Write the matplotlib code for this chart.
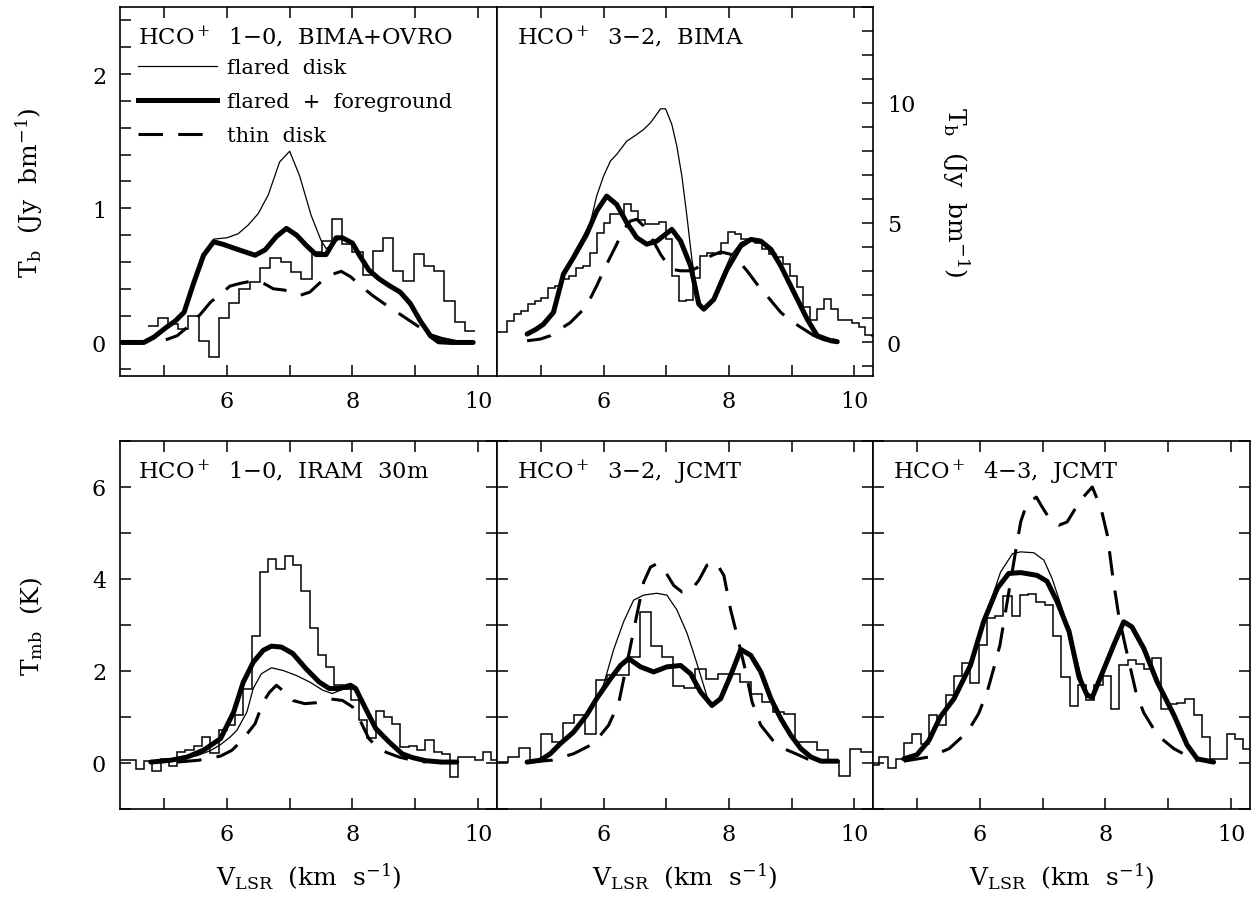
import numpy as np
import matplotlib
matplotlib.use("Agg")
from matplotlib import pyplot as plt
from matplotlib.ticker import MultipleLocator
from matplotlib.lines import Line2D

plt.rcParams['font.family'] = ['DejaVu Serif']
plt.rcParams['mathtext.fontset'] = 'dejavuserif'

# ---- HCO+ 1-0, BIMA+OVRO (Jy/beam) ----
b10_edges = [4.74, 4.90, 5.06, 5.23, 5.39, 5.55, 5.72, 5.88, 6.04, 6.20, 6.37,
             6.53, 6.69, 6.86, 7.02, 7.18, 7.35, 7.51, 7.67, 7.83, 8.00, 8.16,
             8.32, 8.49, 8.65, 8.81, 8.98, 9.14, 9.30, 9.46, 9.63, 9.79, 9.95]
b10_obs = [0.125, 0.18, 0.137, 0.10, 0.20, 0.012, -0.105, 0.18, 0.295, 0.40, 0.45,
           0.555, 0.63, 0.60, 0.525, 0.475, 0.675, 0.755, 0.92, 0.737, 0.675, 0.50,
           0.68, 0.775, 0.533, 0.458, 0.657, 0.567, 0.53, 0.312, 0.15, 0.087]
b10_flared_v = [4.32, 4.68, 4.84, 5.03, 5.18, 5.32, 5.47, 5.63, 5.79, 6.00, 6.18, 6.34,
                6.50, 6.66, 6.84, 7.00, 7.16, 7.34, 7.50, 7.58, 7.66, 7.79, 7.84, 8.00,
                8.11, 8.26, 8.42, 8.58, 8.76, 8.92, 9.08, 9.24, 9.37, 9.58, 9.92]
b10_flared = [0, 0, 0.04, 0.11, 0.16, 0.225, 0.44, 0.65, 0.77, 0.78, 0.81, 0.875,
              0.96, 1.10, 1.345, 1.425, 1.24, 0.95, 0.76, 0.70, 0.72, 0.775, 0.78, 0.74,
              0.65, 0.54, 0.475, 0.425, 0.375, 0.29, 0.16, 0.05, 0.005, 0, 0]
b10_fg_v = [4.32, 4.68, 4.84, 5.03, 5.18, 5.32, 5.47, 5.63, 5.79, 5.95, 6.13, 6.29,
            6.45, 6.61, 6.79, 6.95, 7.11, 7.26, 7.42, 7.58, 7.74, 7.84, 8.00, 8.11,
            8.26, 8.42, 8.58, 8.76, 8.92, 9.08, 9.24, 9.37, 9.58, 9.92]
b10_fg = [0, 0, 0.04, 0.11, 0.16, 0.225, 0.44, 0.65, 0.75, 0.73, 0.70, 0.675,
          0.65, 0.69, 0.79, 0.85, 0.80, 0.725, 0.655, 0.655, 0.78, 0.78, 0.74, 0.65,
          0.54, 0.475, 0.425, 0.375, 0.29, 0.16, 0.05, 0.005, 0, 0]
b10_thin_v = [5.03, 5.21, 5.40, 5.58, 5.74, 5.90, 6.05, 6.21, 6.37, 6.55, 6.74, 6.92,
              7.16, 7.32, 7.47, 7.63, 7.82, 7.97, 8.16, 8.32, 8.47, 8.63, 8.79, 8.95,
              9.11, 9.26, 9.42, 9.63, 9.90]
b10_thin = [0.02, 0.05, 0.125, 0.21, 0.30, 0.36, 0.42, 0.44, 0.455, 0.45, 0.40, 0.39,
            0.35, 0.375, 0.44, 0.50, 0.53, 0.49, 0.41, 0.35, 0.30, 0.25, 0.20, 0.15,
            0.10, 0.055, 0.03, 0.01, 0]

# ---- HCO+ 3-2, BIMA (Jy/beam) ----
b32_edges = [4.24, 4.35, 4.46, 4.57, 4.68, 4.79, 4.90, 5.01, 5.12, 5.23, 5.34,
             5.45, 5.56, 5.67, 5.78, 5.89, 6.00, 6.11, 6.22, 6.33, 6.44, 6.55,
             6.66, 6.77, 6.88, 6.99, 7.10, 7.21, 7.32, 7.43, 7.54, 7.65, 7.76,
             7.87, 7.98, 8.09, 8.20, 8.31, 8.42, 8.53, 8.64, 8.75, 8.86, 8.97,
             9.08, 9.19, 9.30, 9.41, 9.52, 9.63, 9.74, 9.85, 9.96, 10.07, 10.18,
             10.29, 10.40]
b32_obs = [0.42, 0.42, 0.90, 1.18, 1.32, 1.60, 1.73, 1.875, 2.29, 2.36, 2.64,
           2.78, 3.125, 3.17, 3.75, 4.58, 5.0, 5.35, 5.35, 5.79, 5.48, 5.10,
           4.93, 4.93, 5.03, 4.30, 2.78, 1.73, 1.775, 2.71, 3.61, 3.75, 3.68,
           4.14, 4.61, 4.54, 4.30, 4.23, 4.17, 3.89, 3.68, 3.58, 3.26, 2.78,
           2.33, 1.48, 0.94, 1.39, 1.80, 1.39, 0.94, 0.94, 0.83, 0.625, 0.30, 0.275]
b32_flared_v = [4.78, 4.93, 5.09, 5.20, 5.36, 5.52, 5.68, 5.79, 5.89, 6.00, 6.11,
                6.21, 6.37, 6.53, 6.64, 6.75, 6.91, 6.99, 7.09, 7.17, 7.25, 7.33,
                7.41, 7.49, 7.57, 7.71, 7.87, 8.03, 8.19, 8.35, 8.51, 8.67, 8.83,
                8.99, 9.15, 9.28, 9.39, 9.52, 9.73]
b32_flared = [0.35, 0.56, 0.83, 1.25, 2.78, 3.68, 4.44, 5.0, 6.11, 6.94, 7.57,
              7.85, 8.40, 8.68, 8.89, 9.17, 9.75, 9.75, 9.10, 8.19, 6.94, 5.28,
              3.47, 2.08, 1.46, 1.60, 2.64, 3.61, 4.17, 4.33, 4.24, 3.89, 3.19,
              2.36, 1.53, 0.76, 0.21, 0.07, 0.03]
b32_fg_v = [4.78, 4.93, 5.04, 5.20, 5.36, 5.52, 5.73, 5.89, 6.05, 6.21, 6.37,
            6.53, 6.69, 6.85, 7.09, 7.23, 7.39, 7.52, 7.60, 7.76, 7.97, 8.19,
            8.35, 8.51, 8.67, 8.83, 9.04, 9.25, 9.41, 9.63, 9.73]
b32_fg = [0.35, 0.56, 0.76, 1.25, 2.85, 3.54, 4.51, 5.48, 6.11, 5.76, 5.0,
          4.375, 4.10, 4.23, 4.72, 4.23, 3.19, 1.60, 1.39, 1.80, 3.05, 4.03,
          4.30, 4.23, 3.89, 3.19, 2.08, 0.97, 0.28, 0.07, 0.03]
b32_thin_v = [4.78, 4.99, 5.15, 5.31, 5.47, 5.63, 5.73, 5.89, 6.05, 6.21, 6.32,
              6.43, 6.53, 6.64, 6.75, 6.91, 7.07, 7.23, 7.39, 7.55, 7.71, 7.87,
              8.03, 8.13, 8.29, 8.45, 8.61, 8.83, 8.99, 9.15, 9.36, 9.73]
b32_thin = [0.07, 0.14, 0.28, 0.56, 0.83, 1.25, 1.53, 2.36, 3.26, 4.10, 4.72,
            5.07, 5.14, 4.86, 4.44, 3.68, 3.06, 2.99, 2.99, 3.19, 3.61, 3.78,
            3.68, 3.47, 2.99, 2.43, 1.94, 1.25, 0.90, 0.63, 0.28, 0.07]

# ---- HCO+ 1-0, IRAM 30m (K) ----
i10_edges = [4.289, 4.421, 4.552, 4.684, 4.815, 4.947, 5.079, 5.210, 5.342, 5.473,
             5.605, 5.737, 5.868, 6.000, 6.131, 6.263, 6.395, 6.526, 6.658, 6.789,
             6.921, 7.053, 7.184, 7.316, 7.447, 7.579, 7.711, 7.842, 7.974, 8.105,
             8.237, 8.368, 8.500, 8.632, 8.763, 8.895, 9.027, 9.158, 9.290, 9.421,
             9.553, 9.684, 9.816, 9.948, 10.079, 10.211, 10.342]
i10_obs = [0.07, 0.07, -0.12, 0.04, -0.17, 0.08, -0.065, 0.24, 0.29, 0.37,
           0.565, 0.225, 0.71, 0.82, 1.04, 1.60, 2.77, 4.15, 4.43, 4.21,
           4.50, 4.30, 3.74, 2.93, 2.35, 2.09, 1.69, 1.615, 1.38, 0.93,
           0.54, 1.14, 1.0, 0.855, 0.35, 0.38, 0.275, 0.49, 0.24, 0.2,
           -0.30, 0.13, 0.13, 0.06, 0.24, 0.06]
i10_flared_v = [4.79, 5.21, 5.53, 5.74, 5.90, 6.05, 6.16, 6.32, 6.42, 6.55, 6.71,
                6.90, 7.11, 7.32, 7.53, 7.68, 7.84, 7.97, 8.05, 8.21, 8.37, 8.58,
                8.79, 8.95, 9.16, 9.42, 9.66]
i10_flared = [0.02, 0.06, 0.16, 0.27, 0.40, 0.56, 0.71, 1.11, 1.62, 1.94, 2.07,
              2.01, 1.90, 1.76, 1.58, 1.51, 1.60, 1.62, 1.58, 1.18, 0.75, 0.46,
              0.20, 0.12, 0.05, 0.02, 0.02]
i10_fg_v = [4.79, 5.11, 5.37, 5.63, 5.90, 6.11, 6.26, 6.42, 6.58, 6.71, 6.87,
            7.05, 7.26, 7.47, 7.63, 7.79, 7.97, 8.05, 8.21, 8.37, 8.58, 8.79,
            8.95, 9.16, 9.42, 9.66]
i10_fg = [0.02, 0.06, 0.13, 0.28, 0.53, 1.11, 1.75, 2.19, 2.45, 2.54, 2.52,
          2.38, 2.05, 1.76, 1.62, 1.62, 1.69, 1.62, 1.18, 0.75, 0.46, 0.20,
          0.12, 0.05, 0.02, 0.02]
i10_thin_v = [5.21, 5.55, 5.90, 6.08, 6.24, 6.45, 6.58, 6.68, 6.79, 6.92, 7.05,
              7.24, 7.42, 7.63, 7.84, 8.00, 8.11, 8.26, 8.42, 8.55, 8.74, 8.92, 9.16]
i10_thin = [0.02, 0.06, 0.15, 0.275, 0.49, 0.855, 1.33, 1.54, 1.69, 1.54, 1.36,
            1.29, 1.31, 1.395, 1.36, 1.22, 0.96, 0.53, 0.31, 0.225, 0.13, 0.07, 0.02]

# ---- HCO+ 3-2, JCMT (K) ----
j32_edges = [4.293, 4.469, 4.646, 4.822, 4.998, 5.175, 5.351, 5.527, 5.703, 5.880,
             6.056, 6.232, 6.409, 6.585, 6.761, 6.938, 7.114, 7.290, 7.466, 7.643,
             7.819, 7.995, 8.172, 8.348, 8.524, 8.701, 8.877, 9.053, 9.229, 9.406,
             9.582, 9.758, 9.935, 10.111, 10.287, 10.464]
j32_obs = [0.02, 0.13, 0.33, 0.04, 0.64, 0.46, 0.87, 1.04, 0.62, 1.80,
           1.91, 1.91, 2.30, 3.28, 2.54, 2.30, 1.67, 1.63, 2.04, 1.82,
           1.94, 1.94, 1.76, 1.51, 1.33, 1.11, 1.07, 0.46, 0.46, 0.28,
           0.04, -0.29, 0.30, 0.25, 0.25]
j32_flared_v = [4.78, 4.99, 5.15, 5.31, 5.52, 5.73, 5.89, 6.00, 6.16, 6.32, 6.48,
                6.64, 6.85, 7.01, 7.17, 7.33, 7.44, 7.55, 7.65, 7.73, 7.87, 8.03,
                8.19, 8.35, 8.51, 8.67, 8.83, 8.99, 9.15, 9.31, 9.47, 9.73]
j32_flared = [0.02, 0.06, 0.20, 0.42, 0.67, 1.04, 1.40, 1.70, 2.46, 3.07, 3.54,
              3.65, 3.69, 3.65, 3.33, 2.83, 2.38, 1.90, 1.45, 1.25, 1.40, 1.91,
              2.47, 2.34, 1.98, 1.40, 0.96, 0.60, 0.31, 0.13, 0.04, 0.04]
j32_fg_v = [4.78, 4.99, 5.15, 5.31, 5.52, 5.73, 5.89, 6.11, 6.27, 6.40, 6.59,
            6.80, 7.01, 7.23, 7.39, 7.55, 7.73, 7.87, 8.03, 8.19, 8.35, 8.51,
            8.67, 8.83, 8.99, 9.15, 9.31, 9.47, 9.73]
j32_fg = [0.02, 0.06, 0.20, 0.42, 0.67, 1.04, 1.40, 1.83, 2.12, 2.27, 2.09,
          1.98, 2.09, 2.12, 1.94, 1.54, 1.25, 1.40, 1.91, 2.47, 2.34, 1.98,
          1.40, 0.96, 0.60, 0.31, 0.13, 0.04, 0.04]
j32_thin_v = [4.80, 5.17, 5.52, 5.84, 6.08, 6.24, 6.40, 6.53, 6.64, 6.75, 6.85,
              6.99, 7.12, 7.25, 7.39, 7.52, 7.65, 7.79, 7.92, 8.03, 8.13, 8.27,
              8.37, 8.51, 8.72, 8.88, 9.07, 9.25, 9.52]
j32_thin = [0.02, 0.06, 0.20, 0.42, 0.82, 1.29, 2.34, 3.21, 3.93, 4.26, 4.33,
            4.15, 3.86, 3.72, 3.75, 3.97, 4.30, 4.37, 4.08, 3.32, 2.78, 1.98,
            1.33, 0.82, 0.46, 0.31, 0.20, 0.09, 0.02]

# ---- HCO+ 4-3, JCMT (K) ----
j43_edges = [4.268, 4.400, 4.532, 4.663, 4.795, 4.927, 5.058, 5.190, 5.322, 5.454,
             5.585, 5.717, 5.849, 5.980, 6.112, 6.244, 6.376, 6.507, 6.639, 6.771,
             6.902, 7.034, 7.166, 7.298, 7.429, 7.561, 7.693, 7.824, 7.956, 8.088,
             8.220, 8.351, 8.483, 8.615, 8.746, 8.878, 9.010, 9.141, 9.273, 9.405,
             9.537, 9.668, 9.800, 9.932, 10.063, 10.195, 10.327]
j43_obs = [-0.05, 0.13, -0.11, 0.09, 0.44, 0.64, 0.42, 1.05, 0.83, 1.47,
           1.89, 2.18, 1.75, 2.57, 3.15, 3.20, 3.64, 3.20, 3.66, 3.68,
           3.49, 3.44, 2.76, 1.87, 1.25, 1.69, 1.36, 1.69, 1.89, 1.17,
           2.12, 2.23, 2.16, 2.05, 2.28, 1.17, 1.29, 1.31, 1.40, 1.04,
           0.57, 0.09, 0.08, 0.64, 0.53, 0.31]
j43_flared_v = [4.79, 5.00, 5.19, 5.37, 5.59, 5.85, 6.06, 6.17, 6.33, 6.52, 6.65,
                6.86, 7.02, 7.15, 7.31, 7.44, 7.58, 7.68, 7.79, 7.92, 8.13, 8.29,
                8.42, 8.61, 8.82, 9.09, 9.30, 9.46, 9.72]
j43_flared = [0.09, 0.18, 0.49, 1.00, 1.40, 2.12, 3.15, 3.50, 4.15, 4.55, 4.59,
              4.57, 4.41, 4.01, 3.36, 2.78, 2.05, 1.57, 1.43, 1.86, 2.56, 3.07,
              2.96, 2.49, 1.77, 1.04, 0.39, 0.09, 0.02]
j43_fg_v = [4.79, 5.00, 5.19, 5.37, 5.59, 5.85, 6.06, 6.28, 6.46, 6.65, 6.91,
            7.07, 7.23, 7.42, 7.58, 7.71, 7.79, 7.92, 8.13, 8.29, 8.42, 8.61,
            8.82, 9.09, 9.30, 9.46, 9.72]
j43_fg = [0.09, 0.18, 0.49, 1.00, 1.40, 2.12, 3.07, 3.80, 4.12, 4.14, 4.08,
          3.95, 3.51, 2.86, 1.86, 1.47, 1.43, 1.86, 2.56, 3.07, 2.96, 2.49,
          1.77, 1.04, 0.39, 0.09, 0.02]
j43_thin_v = [4.79, 5.19, 5.51, 5.80, 5.98, 6.12, 6.22, 6.32, 6.44, 6.55, 6.65,
              6.75, 6.90, 6.99, 7.10, 7.26, 7.39, 7.60, 7.79, 7.93, 8.03, 8.12,
              8.21, 8.32, 8.49, 8.61, 8.83, 9.09, 9.46]
j43_thin = [0.04, 0.13, 0.31, 0.67, 1.07, 1.56, 2.05, 2.56, 3.54, 4.44, 5.24,
            5.64, 5.78, 5.57, 5.33, 5.17, 5.24, 5.71, 6.00, 5.53, 4.95, 4.01,
            3.21, 2.52, 1.51, 1.09, 0.60, 0.31, 0.04]

titles = [r"HCO$^+$  1$-$0,  BIMA+OVRO", r"HCO$^+$  3$-$2,  BIMA",
          r"HCO$^+$  1$-$0,  IRAM  30m", r"HCO$^+$  3$-$2,  JCMT", r"HCO$^+$  4$-$3,  JCMT"]
legend_labels = ["flared  disk", "flared  +  foreground", "thin  disk"]
tb_label = r"T$_\mathrm{b}$  (Jy  bm$^{-1}$)"
tmb_label = r"T$_\mathrm{mb}$  (K)"
v_label = r"V$_\mathrm{LSR}$  (km  s$^{-1}$)"

W, H = 1257, 903
fig = plt.figure(figsize=(W / 100, H / 100), dpi=100)


def box(x0, y0, x1, y1):
    return [x0 / W, 1 - y1 / H, (x1 - x0) / W, (y1 - y0) / H]


ax_tl = fig.add_axes(box(120, 8, 497, 377))
ax_tr = fig.add_axes(box(497, 8, 873, 377))
ax_bl = fig.add_axes(box(120, 442, 497, 810))
ax_bm = fig.add_axes(box(497, 442, 873, 810))
ax_br = fig.add_axes(box(873, 442, 1250, 810))

TFS = 16.3
LFS = 18
LW_HIST, LW_THIN, LW_THICK, LW_DASH = 1.1, 0.9, 3.6, 2.2
DASH = (8, 5)

panels = [
    (ax_tl, b10_edges, b10_obs, b10_flared_v, b10_flared, b10_fg_v, b10_fg, b10_thin_v, b10_thin),
    (ax_tr, b32_edges, b32_obs, b32_flared_v, b32_flared, b32_fg_v, b32_fg, b32_thin_v, b32_thin),
    (ax_bl, i10_edges, i10_obs, i10_flared_v, i10_flared, i10_fg_v, i10_fg, i10_thin_v, i10_thin),
    (ax_bm, j32_edges, j32_obs, j32_flared_v, j32_flared, j32_fg_v, j32_fg, j32_thin_v, j32_thin),
    (ax_br, j43_edges, j43_obs, j43_flared_v, j43_flared, j43_fg_v, j43_fg, j43_thin_v, j43_thin),
]

for i, (ax, edges, obs, fv, fl, gv, fg, tv, th) in enumerate(panels):
    ax.stairs(obs, edges, baseline=None, color='black', lw=LW_HIST)
    ax.plot(fv, fl, color='black', lw=LW_THIN)
    ax.plot(tv, th, color='black', lw=LW_DASH, dashes=DASH)
    ax.plot(gv, fg, color='black', lw=LW_THICK, solid_capstyle='round')
    ax.set_xlim(4.3, 10.3)
    ax.xaxis.set_major_locator(MultipleLocator(2))
    ax.xaxis.set_minor_locator(MultipleLocator(1))
    ax.tick_params(axis='both', which='both', direction='in', length=8, width=1.1,
                   labelsize=16, top=True, pad=10)
    for s in ax.spines.values():
        s.set_linewidth(1.2)
    x_title = 0.048 if ax in (ax_tl, ax_bl) else 0.053
    ax.text(x_title, 0.955, titles[i], transform=ax.transAxes, ha='left', va='top',
            fontsize=TFS)

# top row y axes
ax_tl.set_ylim(-0.25, 2.5)
ax_tl.yaxis.set_major_locator(MultipleLocator(1))
ax_tl.yaxis.set_minor_locator(MultipleLocator(0.2))
ax_tl.tick_params(axis='y', which='both', left=True, right=False)
ax_tl.set_ylabel(tb_label, fontsize=LFS)
ax_tl.yaxis.set_label_coords(-0.20, 0.5)

ax_tr.set_ylim(-1.4, 14)
ax_tr.yaxis.set_major_locator(MultipleLocator(5))
ax_tr.yaxis.set_minor_locator(MultipleLocator(1))
ax_tr.tick_params(axis='y', which='both', left=False, right=True,
                  labelleft=False, labelright=True)
ax_tr.yaxis.set_label_position('right')
ax_tr.set_ylabel(tb_label, fontsize=LFS, rotation=270, va='center')
ax_tr.yaxis.set_label_coords(1.22, 0.5)

# bottom row y axes
for ax in (ax_bl, ax_bm, ax_br):
    ax.set_ylim(-1, 7)
    ax.yaxis.set_major_locator(MultipleLocator(2))
    ax.yaxis.set_minor_locator(MultipleLocator(1))
    ax.tick_params(axis='y', which='both', left=True, right=True)
    ax.set_xlabel(v_label, fontsize=LFS)
    ax.xaxis.set_label_coords(0.5, -0.14)
for ax in (ax_bm, ax_br):
    ax.tick_params(axis='y', labelleft=False)
ax_bl.set_ylabel(tmb_label, fontsize=LFS)
ax_bl.yaxis.set_label_coords(-0.20, 0.5)

# legend in first panel
handles = [Line2D([], [], color='black', lw=LW_THIN),
           Line2D([], [], color='black', lw=LW_THICK),
           Line2D([], [], color='black', lw=LW_DASH, dashes=DASH)]
ax_tl.legend(handles, legend_labels, loc='upper left', bbox_to_anchor=(0.048, 0.862),
             frameon=False, fontsize=15, handlelength=3.8, handletextpad=0.45,
             labelspacing=0.72, borderpad=0, borderaxespad=0)

fig.savefig("out.png", dpi=100)
